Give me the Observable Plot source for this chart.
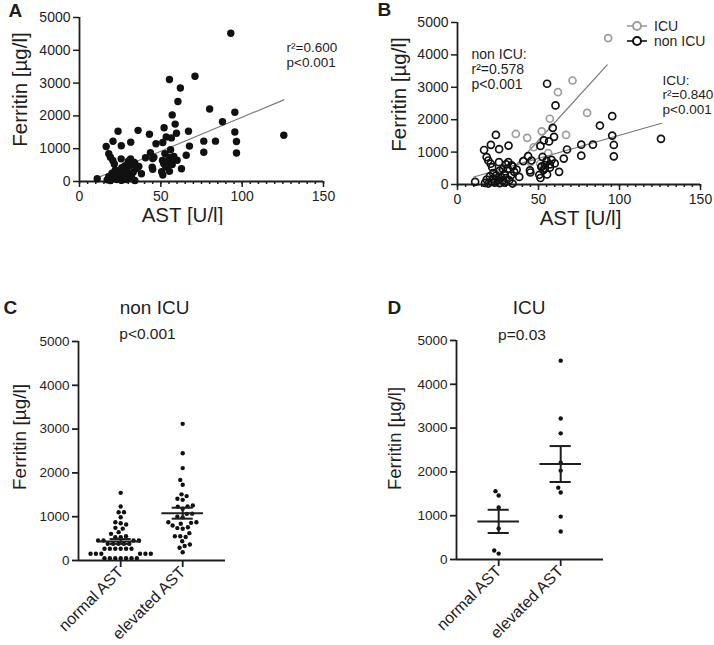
<!DOCTYPE html>
<html><head><meta charset="utf-8">
<script src="https://cdn.jsdelivr.net/npm/d3@7"></script>
<script src="https://cdn.jsdelivr.net/npm/@observablehq/plot@0.6"></script>
<style>
html,body{margin:0;padding:0;background:#fff;}
#fig{position:relative;width:714px;height:645px;overflow:hidden;font-family:"Liberation Sans",Arial,sans-serif;color:#1e1e1e;}
.panel{position:absolute;}
.legend{position:absolute;left:626px;top:19px;font-size:14px;}
.legend .row{display:flex;align-items:center;height:14.5px;}
.legend svg{margin-right:6px;}
</style></head><body><div id="fig"></div>
<script>
// ---------- data ----------
const xTicks = [0, 50, 100, 150];
const xMinorStep = 5;
const yTicks = [0, 1000, 2000, 3000, 4000, 5000];

// ICU patients (gray in panel B)
const icuAst = [36, 43, 47, 45, 24, 27, 93, 71, 62, 80, 57, 52, 67, 56, 51];
const icuFer = [1560, 1440, 1150, 700, 200, 100, 4520, 3210, 2850, 2210, 2030, 1640, 1530, 970, 640];

// non ICU patients (black in panel B)
const nonAst = [55.3, 60.5, 95.5, 87.9, 58.8, 95.5, 59.6, 125.6, 53.3, 56.5, 76.4, 83.6, 96.5, 51.2, 67.6, 76.4, 96.5, 52.5, 65.6, 58, 55, 60, 57, 51.8, 53.9, 62.7, 55.3, 51.2, 52, 54, 57, 53, 50.5,
  23.7, 20.6, 31.5, 25.7, 16.4, 43.6, 18, 19, 40.6, 45.7, 20.5, 25.6, 31.4, 33.4, 36.5, 44.7, 38.1, 10.9, 21.4, 34, 17, 18, 19, 20, 21, 22, 22, 23, 24, 25, 26, 26, 27, 28, 29, 29, 30, 31, 32, 33, 34, 35, 30, 28, 45];
const nonFer = [3110, 2440, 2110, 1820, 1750, 1510, 1470, 1410, 1360, 1330, 1230, 1230, 1220, 1190, 1080, 890, 870, 850, 800, 760, 730, 650, 620, 540, 490, 390, 310, 200, 560, 600, 520, 440, 300,
  1530, 1225, 1200, 1090, 1065, 875, 845, 740, 723, 740, 640, 690, 690, 590, 457, 437, 235, 82, 535, 560, 50, 150, 30, 250, 100, 350, 180, 60, 280, 140, 420, 40, 230, 120, 330, 60, 200, 480, 130, 280, 30, 390, 620, 480, 370];

// regression lines (end points)
const lineAllAst = [10, 125.6], lineAllFer = [90, 2490];
const lineSteepAst = [30, 92.4], lineSteepFer = [260, 3694];
const lineFlatAst = [10, 126], lineFlatFer = [230, 1890];

// panels C and D
const catLabels = ["normal AST", "elevated AST"];
const cNormal = [1545, 1233, 1103, 1103, 989, 875, 852, 822, 746, 727, 647, 609, 555, 533, 533, 457, 457, 457, 457, 380, 380, 380, 380, 380, 267, 267, 267, 267, 267, 267, 153, 153, 153, 153, 153, 153, 53, 53, 53, 53, 53, 53, 53];
const cElevated = [3120, 2450, 2110, 1840, 1730, 1510, 1470, 1410, 1385, 1255, 1235, 1230, 1180, 1070, 1065, 1000, 985, 875, 840, 875, 860, 800, 760, 725, 740, 625, 535, 555, 555, 440, 330, 365, 290, 190];
const cMean = [434, 1080], cSem = [55, 125];
const dNormal = [1560, 1460, 1190, 710, 205, 135];
const dElevated = [4540, 3220, 2880, 2210, 2030, 1640, 1530, 980, 640];
const dMean = [870, 2180], dSem = [265, 410];

// ---------- helpers ----------
const INK = "#1e1e1e";
const FONT = "Liberation Sans, Arial, sans-serif";
const fmt = d3.format("d");
const rows = (a, f) => a.map((v, i) => ({ast: v, fer: f[i]}));
const icuRows = rows(icuAst, icuFer);
const nonRows = rows(nonAst, nonFer);
const allRows = icuRows.concat(nonRows);
const txt = (s, o) => Plot.text([s], {text: d => d, fill: INK, lineAnchor: "middle", textAnchor: "middle", ...o});
const fig = document.getElementById("fig");
function place(el, left, top) { const w = document.createElement("div"); w.className = "panel"; w.style.left = left + "px"; w.style.top = top + "px"; w.appendChild(el); fig.appendChild(w); }

function scatterAxes() {
  return [
    Plot.axisX({ticks: d3.range(0, 151, xMinorStep), tickSize: 3, tickFormat: () => "", label: null, color: INK, strokeWidth: 1.5}),
    Plot.axisX({ticks: xTicks, tickSize: 6, tickPadding: 4, tickFormat: fmt, fontSize: 14, label: null, color: INK, strokeWidth: 1.5}),
    Plot.axisY({ticks: yTicks, tickSize: 6, tickPadding: 3, tickFormat: fmt, fontSize: 14, label: null, color: INK, strokeWidth: 1.5}),
    Plot.ruleX([0], {stroke: INK, strokeWidth: 1.8}),
    Plot.ruleY([0], {stroke: INK, strokeWidth: 1.8})
  ];
}

// ---------- panel A ----------
const plotA = Plot.plot({
  width: 357, height: 225, marginLeft: 79, marginRight: 34, marginTop: 17, marginBottom: 44,
  style: {fontFamily: FONT, color: INK, background: "transparent"},
  x: {domain: [0, 150]}, y: {domain: [0, 5000]},
  marks: [
    ...scatterAxes(),
    Plot.line(rows(lineAllAst, lineAllFer), {x: "ast", y: "fer", stroke: "#7a7a7a", strokeWidth: 1.2}),
    Plot.dot(allRows, {x: "ast", y: "fer", r: 3.7, fill: "#111", stroke: null}),
    txt("A", {frameAnchor: "top-left", dx: -71, dy: -7, textAnchor: "start", fontSize: 19, fontWeight: "bold"}),
    txt("r²=0.600", {frameAnchor: "top-left", dx: 207, dy: 30, textAnchor: "start", fontSize: 13.5}),
    txt("p<0.001", {frameAnchor: "top-left", dx: 207, dy: 45, textAnchor: "start", fontSize: 13.5}),
    txt("Ferritin [µg/l]", {frameAnchor: "left", dx: -59, dy: -10, rotate: -90, fontSize: 20.5}),
    txt("AST [U/l]", {frameAnchor: "bottom", dx: -19, dy: 34, fontSize: 20.5})
  ]
});
place(plotA, 0, 0);

// ---------- panel B ----------
const plotB = Plot.plot({
  width: 354, height: 230, marginLeft: 97, marginRight: 14, marginTop: 22, marginBottom: 46,
  style: {fontFamily: FONT, color: INK, background: "transparent"},
  x: {domain: [0, 150]}, y: {domain: [0, 5000]},
  marks: [
    ...scatterAxes(),
    Plot.line(rows(lineSteepAst, lineSteepFer), {x: "ast", y: "fer", stroke: "#7a7a7a", strokeWidth: 1.2}),
    Plot.line(rows(lineFlatAst, lineFlatFer), {x: "ast", y: "fer", stroke: "#7a7a7a", strokeWidth: 1.2}),
    Plot.dot(icuRows, {x: "ast", y: "fer", r: 3.5, stroke: "#9d9d9d", strokeWidth: 1.7, fill: "none"}),
    Plot.dot(nonRows, {x: "ast", y: "fer", r: 3.5, stroke: "#111", strokeWidth: 1.7, fill: "none"}),
    txt("B", {frameAnchor: "top-left", dx: -80, dy: -13, textAnchor: "start", fontSize: 19, fontWeight: "bold"}),
    txt("non ICU:", {frameAnchor: "top-left", dx: 14, dy: 32, textAnchor: "start", fontSize: 14}),
    txt("r²=0.578", {frameAnchor: "top-left", dx: 14, dy: 47, textAnchor: "start", fontSize: 14}),
    txt("p<0.001", {frameAnchor: "top-left", dx: 14, dy: 62, textAnchor: "start", fontSize: 14}),
    txt("ICU:", {frameAnchor: "top-left", dx: 205, dy: 58, textAnchor: "start", fontSize: 13.5}),
    txt("r²=0.840", {frameAnchor: "top-left", dx: 205, dy: 72.5, textAnchor: "start", fontSize: 13.5}),
    txt("p<0.001", {frameAnchor: "top-left", dx: 205, dy: 87, textAnchor: "start", fontSize: 13.5}),
    txt("Ferritin [µg/l]", {frameAnchor: "left", dx: -58, dy: -9, rotate: -90, fontSize: 20.5}),
    txt("AST [U/l]", {frameAnchor: "bottom", dx: 1.5, dy: 34, fontSize: 20.5})
  ]
});
place(plotB, 360, 0);

// legend for B
const legend = document.createElement("div");
legend.className = "legend";
[["ICU", "#9d9d9d"], ["non ICU", "#111"]].forEach(([name, col]) => {
  const r = document.createElement("div"); r.className = "row";
  r.innerHTML = `<svg width="22" height="12"><line x1="1" x2="21" y1="6" y2="6" stroke="${col}" stroke-width="1.6"/><circle cx="11" cy="6" r="4" fill="#fff" stroke="${col}" stroke-width="2"/></svg><span>${name}</span>`;
  legend.appendChild(r);
});
fig.appendChild(legend);

// ---------- panels C & D ----------
const catDomain = [-0.68, 1.69];
function swarm(values, idx, r, kx, ky) {
  const D = 2 * r + 1;
  const placed = [];
  [...values].sort((a, b) => a - b).forEach(v => {
    const py = v * ky;
    const blockers = placed.filter(q => Math.abs(q.py - py) < D);
    const cands = [0];
    blockers.forEach(q => { const w = Math.sqrt(D * D - (q.py - py) ** 2); cands.push(q.px - w, q.px + w); });
    cands.sort((a, b) => Math.abs(a) - Math.abs(b) || a - b);
    const px = cands.find(c => blockers.every(q => (q.px - c) ** 2 + (q.py - py) ** 2 >= D * D - 1e-6));
    placed.push({v, px, py});
  });
  return placed.map(p => ({i: idx, fer: p.v, x: idx + p.px / kx}));
}

function groupPlot(letter, title, pText, groups, means, sems, dims, pos) {
  const {width, height, mL, mR, mT, mB} = dims;
  const kx = (width - mL - mR) / (catDomain[1] - catDomain[0]);
  const ky = (height - mT - mB) / 5000;
  const r = 2.2;
  const pts = groups.flatMap((g, i) => swarm(g, i, r, kx, ky));
  const stats = means.map((m, i) => ({i, mean: m, lo: m - sems[i], hi: m + sems[i]}));
  return Plot.plot({
    width, height, marginLeft: mL, marginRight: mR, marginTop: mT, marginBottom: mB,
    style: {fontFamily: FONT, color: INK, background: "transparent"},
    x: {domain: catDomain}, y: {domain: [0, 5000]},
    marks: [
      Plot.axisY({ticks: yTicks, tickSize: 6, tickPadding: 3, tickFormat: fmt, fontSize: 13.5, label: null, color: INK, strokeWidth: 1.8}),
      Plot.axisX({ticks: [0, 1], tickFormat: i => catLabels[i], tickRotate: -45, tickSize: 7, tickPadding: 2, fontSize: 16, label: null, color: INK, strokeWidth: 1.8}),
      Plot.ruleX([catDomain[0]], {stroke: INK, strokeWidth: 1.8}),
      Plot.ruleY([0], {stroke: INK, strokeWidth: 1.8}),
      Plot.dot(pts, {x: "x", y: "fer", r, fill: "#111", stroke: null}),
      Plot.ruleY(stats, {x1: d => d.i - 0.335, x2: d => d.i + 0.335, y: "mean", stroke: INK, strokeWidth: 2}),
      Plot.ruleY(stats, {x1: d => d.i - 0.17, x2: d => d.i + 0.17, y: "hi", stroke: INK, strokeWidth: 2}),
      Plot.ruleY(stats, {x1: d => d.i - 0.17, x2: d => d.i + 0.17, y: "lo", stroke: INK, strokeWidth: 2}),
      Plot.ruleX(stats, {x: "i", y1: "lo", y2: "hi", stroke: INK, strokeWidth: 2}),
      txt(letter, {frameAnchor: "top-left", dx: pos.letterDx, dy: pos.titleDy, textAnchor: "start", fontSize: 19, fontWeight: "bold"}),
      txt(title, {frameAnchor: "top", dx: pos.titleDx, dy: pos.titleDy, fontSize: 19}),
      txt(pText, {frameAnchor: "top", dx: pos.pDx, dy: pos.pDy, fontSize: 15.5}),
      txt("Ferritin [µg/l]", {frameAnchor: "left", dx: pos.yDx, dy: pos.yDy, rotate: -90, fontSize: pos.ySize})
    ]
  });
}

const plotC = groupPlot("C", "non ICU", "p<0.001", [cNormal, cElevated], cMean, cSem,
  {width: 260, height: 365, mL: 78, mR: 35, mT: 61, mB: 85},
  {letterDx: -75, titleDx: 2.5, titleDy: -34, pDx: -4.5, pDy: -7, yDx: -58.5, yDy: -14, ySize: 19});
place(plotC, 0, 280);

const plotD = groupPlot("D", "ICU", "p=0.03", [dNormal, dElevated], dMean, dSem,
  {width: 260, height: 365, mL: 78, mR: 35, mT: 60, mB: 86},
  {letterDx: -69, titleDx: -1, titleDy: -33, pDx: -8, pDy: -5, yDx: -61.5, yDy: -11.5, ySize: 18.5});
place(plotD, 378, 280);
</script></body></html>
